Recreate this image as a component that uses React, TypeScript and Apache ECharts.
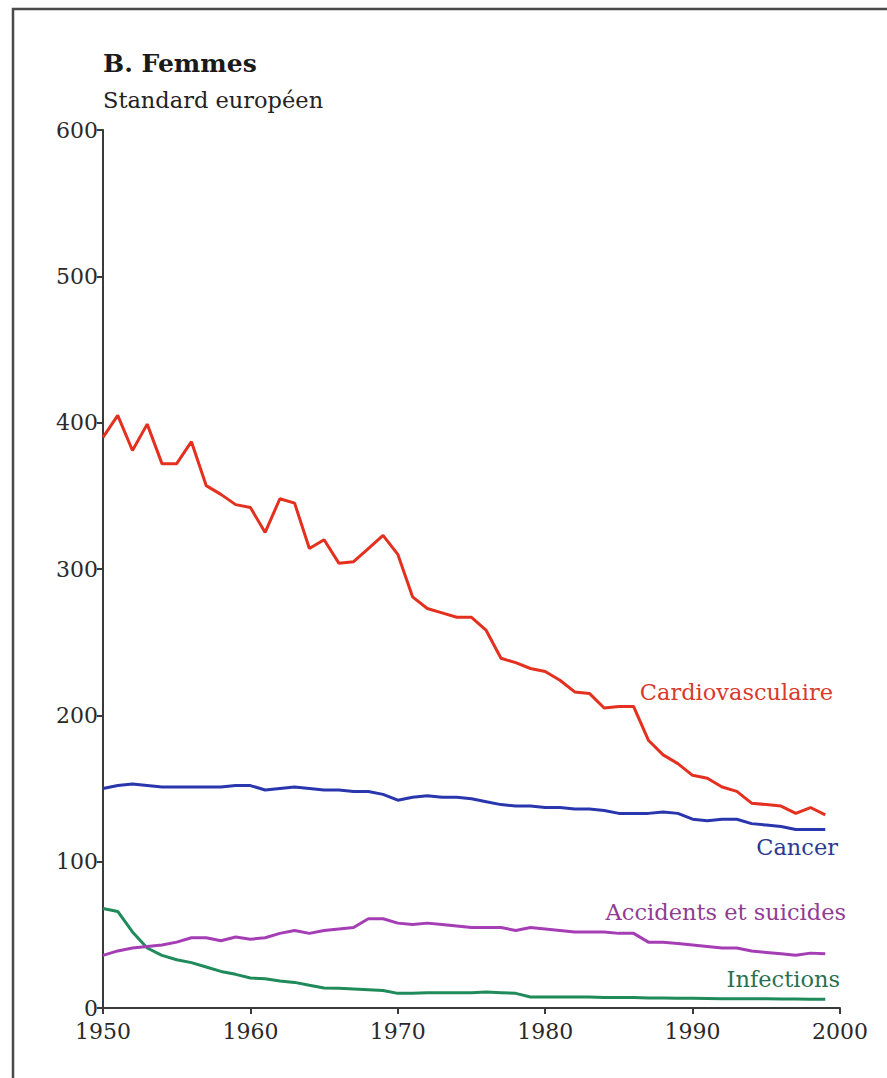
import React, { useEffect, useRef } from "react";
import * as echarts from "echarts";

const years: number[] = [];
for (let y = 1950; y <= 1999; y++) years.push(y);

const cardio = [390, 405, 381, 399, 372, 372, 387, 357, 351, 344, 342, 325, 348, 345, 314, 320, 304, 305, 314, 323, 310, 281, 273, 270, 267, 267, 258, 239, 236, 232, 230, 224, 216, 215, 205, 206, 206, 183, 173, 167, 159, 157, 151, 148, 140, 139, 138, 133, 137, 132];
const cancer = [150, 152, 153, 152, 151, 151, 151, 151, 151, 152, 152, 149, 150, 151, 150, 149, 149, 148, 148, 146, 142, 144, 145, 144, 144, 143, 141, 139, 138, 138, 137, 137, 136, 136, 135, 133, 133, 133, 134, 133, 129, 128, 129, 129, 126, 125, 124, 122, 122, 122];
const accidents = [36, 39, 41, 42, 43, 45, 48, 48, 46, 48.5, 47, 48, 51, 53, 51, 53, 54, 55, 61, 61, 58, 57, 58, 57, 56, 55, 55, 55, 53, 55, 54, 53, 52, 52, 52, 51, 51, 45, 45, 44, 43, 42, 41, 41, 39, 38, 37, 36, 37.5, 37];
const infections = [68, 66, 52, 41, 36, 33, 31, 28, 25, 23, 20.5, 20, 18.5, 17.5, 15.5, 13.7, 13.5, 13, 12.5, 12, 10, 10, 10.5, 10.5, 10.5, 10.5, 11, 10.5, 10, 7.5, 7.5, 7.5, 7.5, 7.5, 7.2, 7.2, 7.2, 6.8, 6.8, 6.7, 6.6, 6.5, 6.4, 6.4, 6.3, 6.3, 6.2, 6.1, 6.0, 6.0];

const seriesNames = ["Cardiovasculaire", "Cancer", "Accidents et suicides", "Infections"];
const lineColors = ["#e3301f", "#2a36ad", "#a53db5", "#1f8a5a"];
const labelColors = ["#d83a2b", "#2c3a92", "#8f3c92", "#2a6f50"];
const titleText = "B. Femmes";
const subtitleText = "Standard européen";

const FONT = "'DejaVu Serif', 'Liberation Serif', serif";

export default function App() {
  const ref = useRef<HTMLDivElement>(null);
  useEffect(() => {
    if (!ref.current) return;
    const chart = echarts.init(ref.current, undefined, { renderer: "svg" });
    const allData = [cardio, cancer, accidents, infections];
    chart.setOption({
      animation: false,
      backgroundColor: "#ffffff",
      textStyle: { fontFamily: FONT },
      grid: { left: 103, right: 47, top: 130, bottom: 70, containLabel: false },
      xAxis: {
        type: "value",
        min: 1950,
        max: 2000,
        interval: 10,
        axisLine: { show: true, lineStyle: { color: "#3a3a3a", width: 2 } },
        axisTick: { show: true, inside: false, length: 6, lineStyle: { color: "#3a3a3a", width: 2 } },
        axisLabel: { color: "#2a2a2a", fontSize: 22, fontFamily: FONT, margin: 12, formatter: (v: number) => String(v) },
        splitLine: { show: false },
      },
      yAxis: {
        type: "value",
        min: 0,
        max: 600,
        interval: 100,
        axisLine: { show: true, lineStyle: { color: "#3a3a3a", width: 2 } },
        axisTick: { show: true, inside: false, length: 6, lineStyle: { color: "#3a3a3a", width: 2 } },
        axisLabel: { color: "#2a2a2a", fontSize: 22, fontFamily: FONT, margin: 5, formatter: (v: number) => String(v) },
        splitLine: { show: false },
      },
      series: allData.map((d, i) => ({
        type: "line",
        name: seriesNames[i],
        data: years.map((y, k) => [y, d[k]]),
        symbol: "none",
        lineStyle: { color: lineColors[i], width: 3 },
        itemStyle: { color: lineColors[i] },
        z: 5 - i,
      })),
      graphic: [
        {
          type: "rect",
          shape: { x: 13, y: 9, width: 900, height: 1100 },
          style: { fill: "none", stroke: "#4a4a4a", lineWidth: 2.5 },
          silent: true,
        },
        {
          type: "text",
          x: 103,
          y: 63,
          style: { text: titleText, fill: "#1a1a1a", font: `bold 25px ${FONT}`, textVerticalAlign: "middle" },
        },
        {
          type: "text",
          x: 103,
          y: 100,
          style: { text: subtitleText, fill: "#222222", font: `22.5px ${FONT}`, textVerticalAlign: "middle" },
        },
        {
          type: "text",
          x: 833,
          y: 692,
          style: { text: seriesNames[0], fill: labelColors[0], font: `22.5px ${FONT}`, textAlign: "right", textVerticalAlign: "middle" },
        },
        {
          type: "text",
          x: 838,
          y: 847,
          style: { text: seriesNames[1], fill: labelColors[1], font: `22.5px ${FONT}`, textAlign: "right", textVerticalAlign: "middle" },
        },
        {
          type: "text",
          x: 846,
          y: 912,
          style: { text: seriesNames[2], fill: labelColors[2], font: `22.5px ${FONT}`, textAlign: "right", textVerticalAlign: "middle" },
        },
        {
          type: "text",
          x: 840,
          y: 979,
          style: { text: seriesNames[3], fill: labelColors[3], font: `22.5px ${FONT}`, textAlign: "right", textVerticalAlign: "middle" },
        },
      ],
    });
    return () => chart.dispose();
  }, []);
  return (
    <div
      ref={ref}
      style={{ position: "absolute", left: 0, top: 0, width: 887, height: 1078, background: "#fff" }}
    />
  );
}
